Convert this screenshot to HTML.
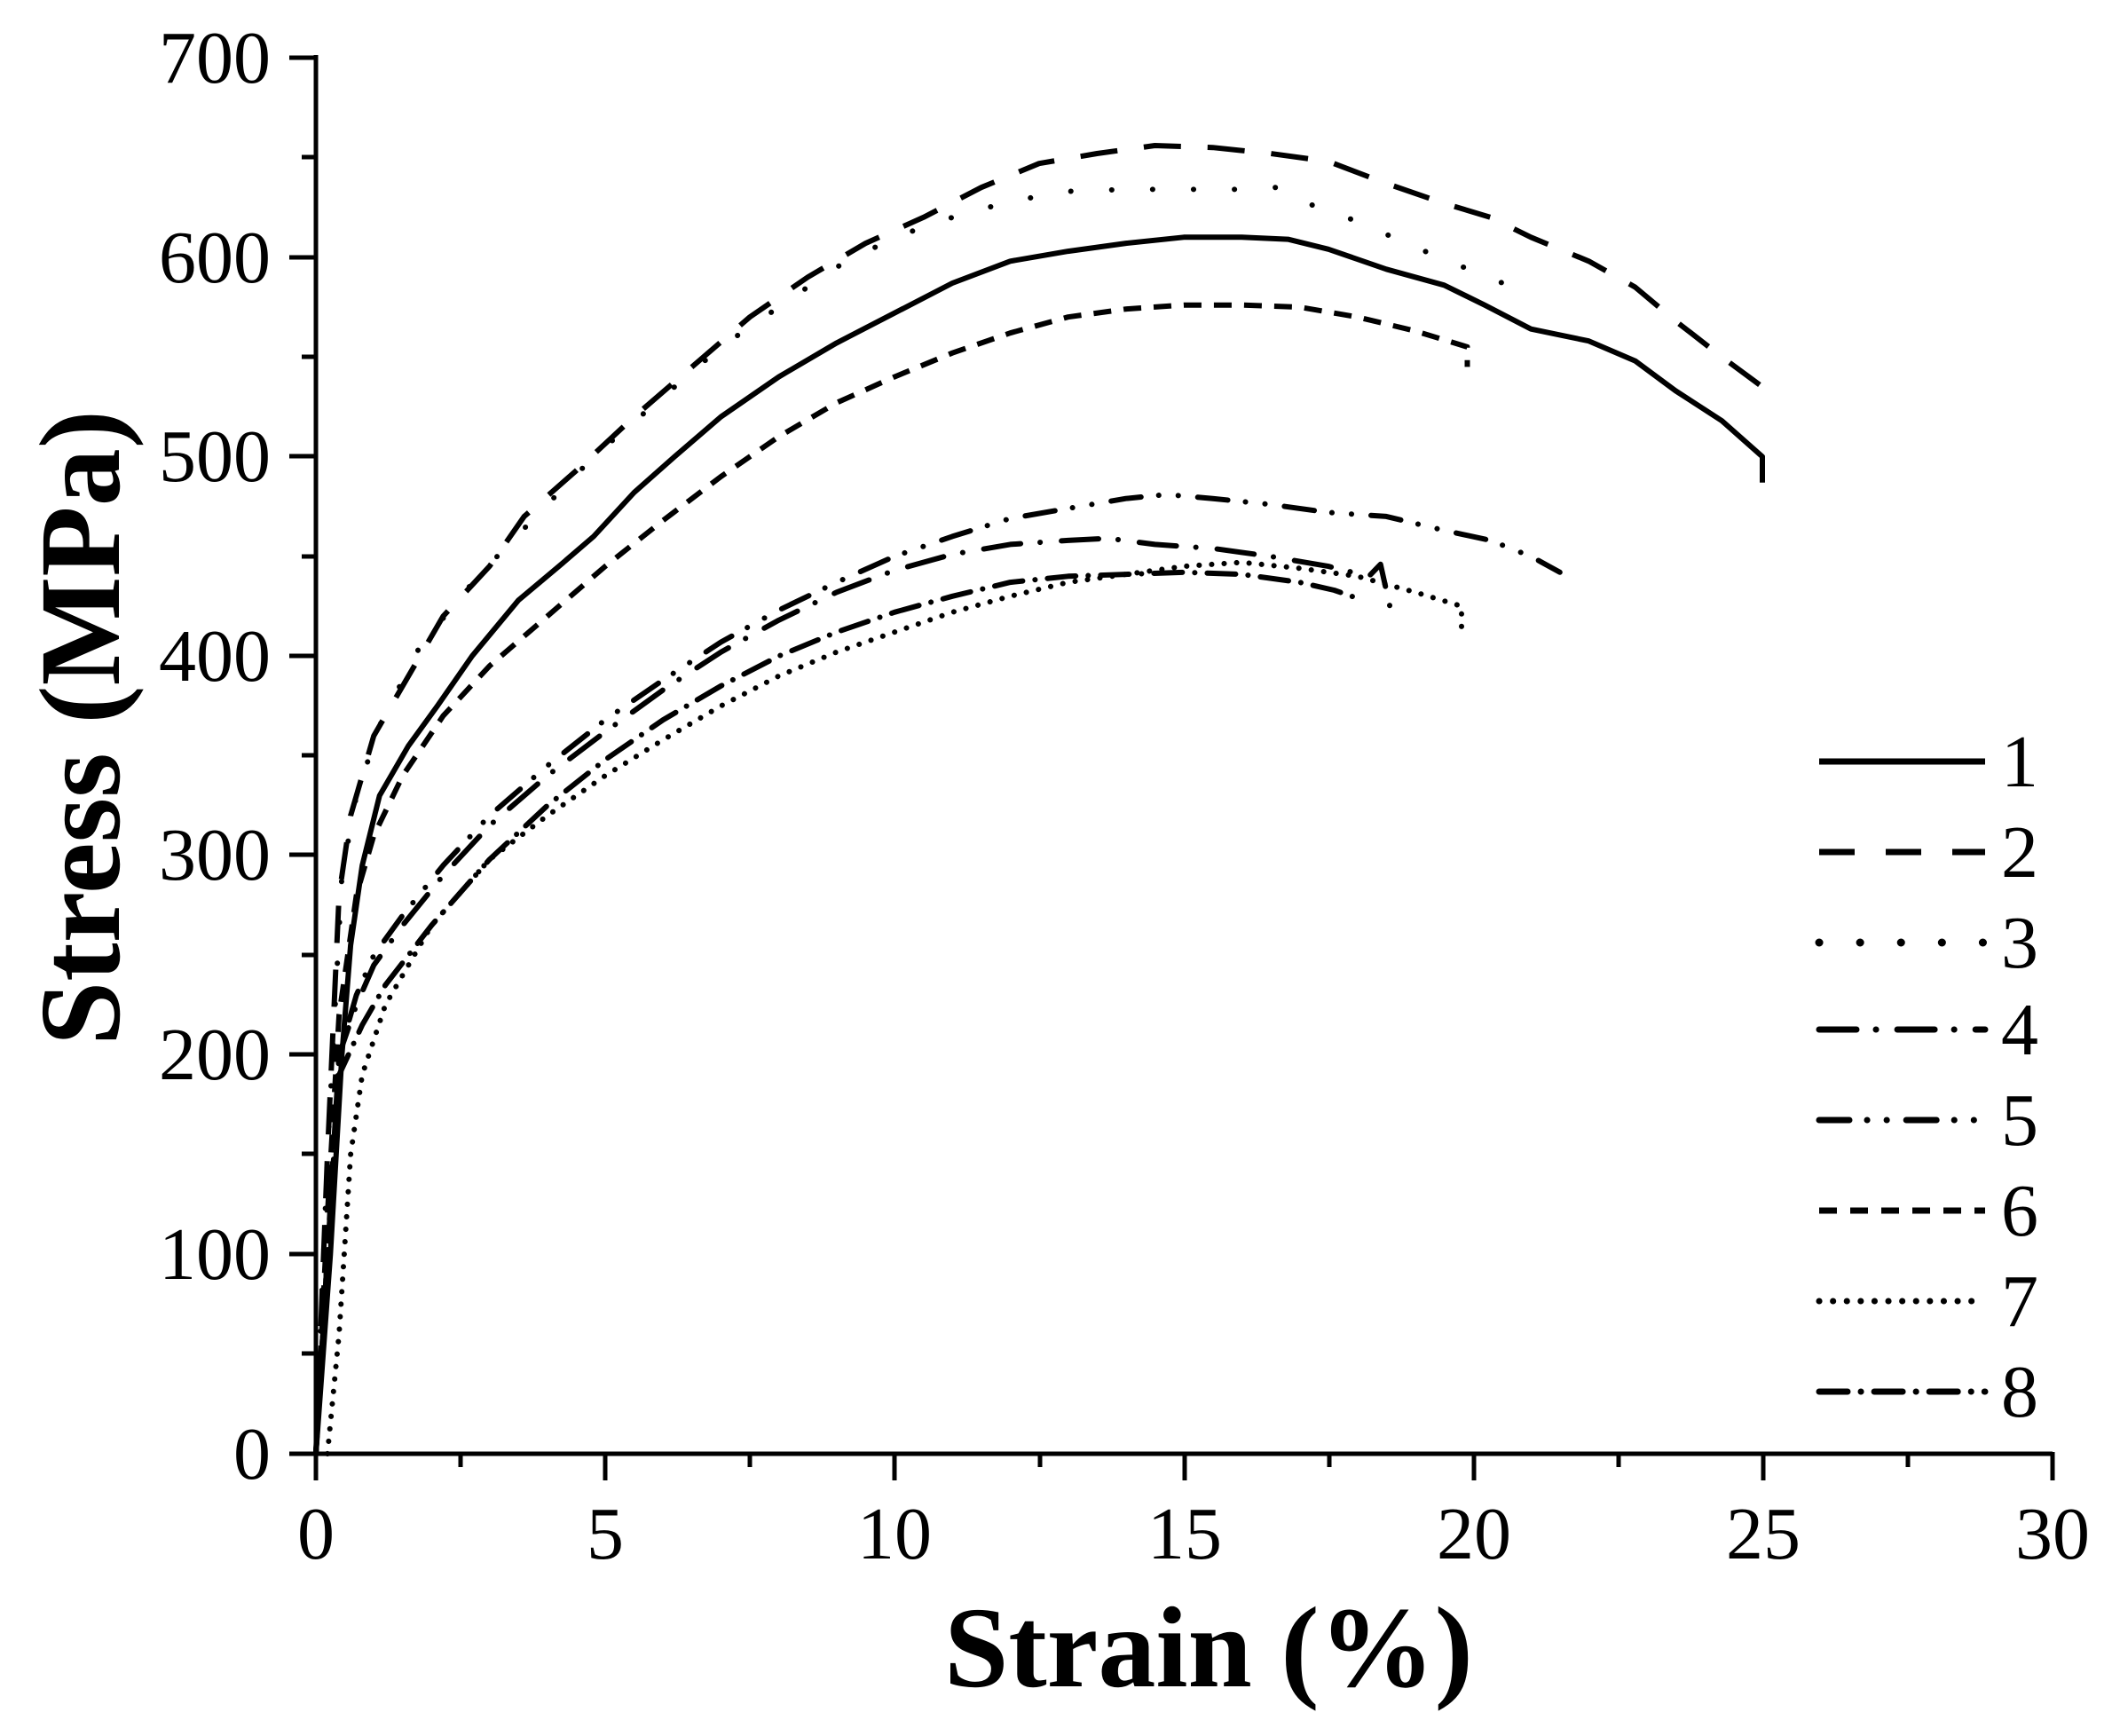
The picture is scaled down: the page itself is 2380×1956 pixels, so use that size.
<!DOCTYPE html>
<html><head><meta charset="utf-8"><style>
html,body{margin:0;padding:0;background:#fff;}
svg{display:block;}
text{font-family:"Liberation Serif",serif;fill:#000;}
</style></head><body>
<svg id="s" width="2380" height="1956" viewBox="0 0 2380 1956" xmlns="http://www.w3.org/2000/svg">
<g stroke="#000" stroke-width="5" fill="none">
<line x1="356" y1="62" x2="356" y2="1640"/>
<line x1="326" y1="1638" x2="2313" y2="1638"/>
<line x1="326" y1="65" x2="356" y2="65"/>
<line x1="326" y1="290" x2="356" y2="290"/>
<line x1="326" y1="514" x2="356" y2="514"/>
<line x1="326" y1="739" x2="356" y2="739"/>
<line x1="326" y1="963" x2="356" y2="963"/>
<line x1="326" y1="1188" x2="356" y2="1188"/>
<line x1="326" y1="1413" x2="356" y2="1413"/>
<line x1="340" y1="177" x2="356" y2="177"/>
<line x1="340" y1="402" x2="356" y2="402"/>
<line x1="340" y1="627" x2="356" y2="627"/>
<line x1="340" y1="851" x2="356" y2="851"/>
<line x1="340" y1="1076" x2="356" y2="1076"/>
<line x1="340" y1="1300" x2="356" y2="1300"/>
<line x1="340" y1="1525" x2="356" y2="1525"/>
<line x1="356" y1="1638" x2="356" y2="1668"/>
<line x1="682" y1="1638" x2="682" y2="1668"/>
<line x1="1008" y1="1638" x2="1008" y2="1668"/>
<line x1="1335" y1="1638" x2="1335" y2="1668"/>
<line x1="1661" y1="1638" x2="1661" y2="1668"/>
<line x1="1987" y1="1638" x2="1987" y2="1668"/>
<line x1="2313" y1="1636" x2="2313" y2="1668"/>
<line x1="519" y1="1638" x2="519" y2="1653"/>
<line x1="845" y1="1638" x2="845" y2="1653"/>
<line x1="1172" y1="1638" x2="1172" y2="1653"/>
<line x1="1498" y1="1638" x2="1498" y2="1653"/>
<line x1="1824" y1="1638" x2="1824" y2="1653"/>
<line x1="2150" y1="1638" x2="2150" y2="1653"/>
</g>
<g font-size="84" text-anchor="end">
<text x="305" y="93">700</text>
<text x="305" y="318">600</text>
<text x="305" y="542">500</text>
<text x="305" y="767">400</text>
<text x="305" y="991">300</text>
<text x="305" y="1216">200</text>
<text x="305" y="1441">100</text>
<text x="305" y="1666">0</text>
</g>
<g font-size="84" text-anchor="middle">
<text x="356" y="1756">0</text>
<text x="682" y="1756">5</text>
<text x="1008" y="1756">10</text>
<text x="1335" y="1756">15</text>
<text x="1661" y="1756">20</text>
<text x="1987" y="1756">25</text>
<text x="2313" y="1756">30</text>
</g>
<text x="1362" y="1900" font-size="130" font-weight="bold" text-anchor="middle">Strain (%)</text>
<text transform="translate(134,820) rotate(-90)" font-size="130" font-weight="bold" text-anchor="middle">Stress (MPa)</text>

<g id="curves" fill="none" stroke="#000" stroke-width="6" stroke-linejoin="round"></g>

<g fill="none" stroke="#000" stroke-width="7">
<line x1="2050" y1="858" x2="2237" y2="858"/>
<line x1="2050" y1="960" x2="2237" y2="960" stroke-dasharray="40 35"/>
<line x1="2050" y1="1062" x2="2237" y2="1062" stroke-dasharray="0.1 46" stroke-linecap="round" stroke-width="9"/>
<line x1="2050" y1="1160" x2="2237" y2="1160" stroke-dasharray="42 22 0.1 24" stroke-linecap="round"/>
<line x1="2050" y1="1262" x2="2237" y2="1262" stroke-dasharray="34 20 0.1 22 0.1 22" stroke-linecap="round"/>
<line x1="2050" y1="1364" x2="2237" y2="1364" stroke-dasharray="20 15"/>
<line x1="2050" y1="1466" x2="2237" y2="1466" stroke-dasharray="0.1 15.5" stroke-linecap="round"/>
<line x1="2050" y1="1568" x2="2237" y2="1568" stroke-dasharray="32 15 0.1 15" stroke-linecap="round"/>
</g>
<g font-size="84">
<text x="2255" y="886">1</text>
<text x="2255" y="988">2</text>
<text x="2255" y="1090">3</text>
<text x="2255" y="1188">4</text>
<text x="2255" y="1290">5</text>
<text x="2255" y="1392">6</text>
<text x="2255" y="1494">7</text>
<text x="2255" y="1596">8</text>
</g>
</svg>
<script>
var X=function(e){return 356+65.2*e},Y=function(s){return 1638-2.247*s};
var C=[
{d:"",c:"",p:[[0,0],[0.25,100],[0.45,200],[0.6,255],[0.8,295],[1.1,330],[1.6,355],[2.1,375],[2.7,400],[3.5,428],[4.2,445],[4.8,460],[5.5,482],[6.2,500],[7,520],[8,540],[9,557],[10,572],[11,587],[12,598],[13,603],[14,607],[15,610],[16,610],[16.8,609],[17.5,604],[18.5,594],[19.5,586],[20.2,576],[21,564],[22,558],[22.8,548],[23.5,533],[24.3,518],[25,500],[25,487]]},
{d:"42 30",c:"butt",p:[[0,0],[0.2,150],[0.4,280],[0.6,320],[1,360],[1.5,385],[2.2,420],[3,445],[3.6,470],[4.5,493],[5.5,520],[6.5,545],[7.5,570],[8.5,590],[9.5,607],[10.5,620],[11.5,635],[12.5,647],[13.5,652],[14.5,656],[15.5,655],[16.5,652],[17.5,648],[18.5,637],[19.5,627],[20.3,620],[21,610],[22,598],[22.8,585],[23.5,568],[24.3,550],[25,535]]},
{d:"0.1 46",c:"round",p:[[0,0],[0.2,150],[0.45,290],[0.7,330],[1.1,365],[1.8,405],[2.8,440],[3.8,470],[4.8,500],[6,530],[7,555],[8,575],[9,595],[10,610],[11,620],[12,628],[13,633],[14,634],[15,634],[16,634],[16.6,635],[17.3,625],[18,618],[19,605],[20,593],[20.6,586]]},
{d:"20 14",c:"butt",p:[[0,0],[0.2,120],[0.4,220],[0.7,280],[1,310],[1.5,340],[2.2,370],[3,395],[4,420],[5,445],[6,468],[7,490],[8,510],[9,527],[10,540],[11,552],[12,562],[13,570],[14,574],[15,576],[16,576],[17,575],[18,570],[19,563],[19.9,555],[19.9,545]]},
{d:"34 20 0.1 22 0.1 22",c:"round",p:[[0,0],[0.2,100],[0.4,200],[0.7,230],[1,250],[1.5,270],[2.2,295],[3,320],[4,345],[5,368],[6,388],[7,407],[8,423],[9,437],[10,450],[11,460],[12,469],[13,474],[14,479],[14.7,481],[15.5,479],[16.5,476],[17.5,472],[18.5,470],[19.5,463],[20.3,458],[21,450],[21.5,442]]},
{d:"42 22 0.1 24",c:"round",p:[[0,0],[0.2,100],[0.4,200],[0.7,225],[1,245],[1.5,265],[2.2,290],[3,315],[4,340],[5,362],[6,383],[7,402],[8,418],[9,432],[10,443],[11,451],[12,456],[13,458],[13.7,459],[14.5,456],[15.5,454],[16.5,450],[17.5,445],[18.2,440],[18.4,446],[18.6,420]]},
{d:"32 14 0.1 14",c:"round",p:[[0,0],[0.2,100],[0.4,190],[0.8,215],[1.2,235],[2,265],[3,298],[4,325],[5,348],[6,368],[7,385],[8,400],[9,412],[10,422],[11,430],[12,437],[13,440],[14,441],[15,442],[16,441],[17,437],[17.6,433],[18.1,428]]},
{d:"0.1 14",c:"round",p:[[0.2,0],[0.4,60],[0.6,150],[0.8,190],[1.2,225],[2,265],[3,298],[4,320],[5,340],[6,358],[7,375],[8,390],[9,402],[10,412],[11,422],[12,430],[13,437],[14,441],[15,445],[16,447],[17,444],[18,440],[19,432],[19.8,425],[19.8,410]]}
];
var g=document.getElementById("curves"),ns="http://www.w3.org/2000/svg";
C.forEach(function(c){
 var el=document.createElementNS(ns,"path");
 el.setAttribute("d","M"+c.p.map(function(q){return X(q[0]).toFixed(1)+","+Y(q[1]).toFixed(1)}).join(" L"));
 if(c.d)el.setAttribute("stroke-dasharray",c.d);
 if(c.c)el.setAttribute("stroke-linecap",c.c);
 g.appendChild(el);
});
</script>
</body></html>
